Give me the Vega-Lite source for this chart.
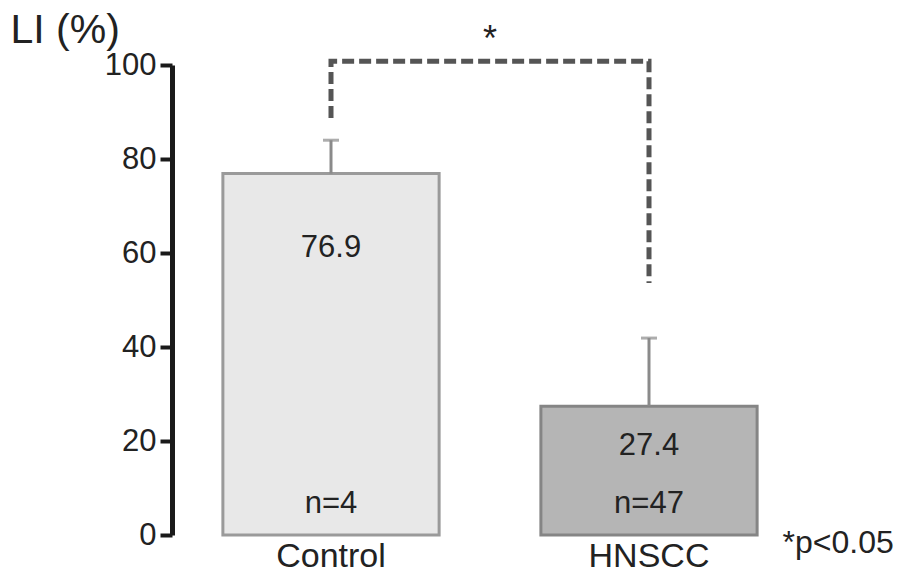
{
  "$schema": "https://vega.github.io/schema/vega-lite/v6.json",
  "width": 636,
  "height": 470,
  "autosize": {"type": "none"},
  "padding": {"left": 172, "top": 65, "right": 104, "bottom": 48},
  "background": "white",
  "config": {"view": {"stroke": null}, "font": "Liberation Sans"},
  "title": {"text": "*", "anchor": "middle", "fontSize": 36, "fontWeight": "normal", "color": "#222222", "offset": 10, "dy": 60},
  "datasets": {
    "bars": [
      {"group": "Control", "value": 76.9, "upper": 84.0, "n": "n=4"},
      {"group": "HNSCC", "value": 27.4, "upper": 41.9, "n": "n=47"}
    ],
    "bracket": [
      {"group": "Control", "y": 88.7, "o": 1},
      {"group": "Control", "y": 100.8, "o": 2},
      {"group": "HNSCC", "y": 100.8, "o": 3},
      {"group": "HNSCC", "y": 53.6, "o": 4}
    ]
  },
  "layer": [
    {
      "data": {"name": "bars"},
      "mark": {"type": "bar", "strokeWidth": 3},
      "encoding": {
        "x": {
          "field": "group", "type": "nominal", "sort": ["Control", "HNSCC"],
          "scale": {"paddingInner": 0.32, "paddingOuter": 0.16},
          "axis": {
            "domain": false, "ticks": false, "labelAngle": 0, "labelFontSize": 34, "labelPadding": 4,
            "labelColor": "#222222", "title": "*p<0.05", "titleX": 610, "titleY": 17,
            "titleAlign": "left", "titleBaseline": "alphabetic", "titleFontSize": 32,
            "titleFontWeight": "normal", "titleColor": "#222222"
          }
        },
        "y": {
          "field": "value", "type": "quantitative",
          "scale": {"domain": [0, 100], "nice": false},
          "axis": {
            "values": [0, 20, 40, 60, 80, 100], "grid": false, "domainWidth": 5, "domainColor": "#1a1a1a",
            "tickWidth": 4, "tickSize": 12, "tickColor": "#1a1a1a", "labelFontSize": 31, "labelPadding": 4,
            "labelColor": "#222222", "title": "LI (%)", "titleAngle": 0, "titleX": -162, "titleY": -23,
            "titleAlign": "left", "titleBaseline": "alphabetic", "titleFontSize": 41,
            "titleFontWeight": "normal", "titleColor": "#222222"
          }
        },
        "fill": {"field": "group", "type": "nominal", "scale": {"domain": ["Control", "HNSCC"], "range": ["#e8e8e8", "#b5b5b5"]}, "legend": null},
        "stroke": {"field": "group", "type": "nominal", "scale": {"domain": ["Control", "HNSCC"], "range": ["#9a9a9a", "#858585"]}, "legend": null}
      }
    },
    {
      "data": {"name": "bars"},
      "mark": {"type": "rule", "color": "#8a8a8a", "strokeWidth": 3},
      "encoding": {
        "x": {"field": "group", "type": "nominal"},
        "y": {"field": "value", "type": "quantitative"},
        "y2": {"field": "upper"}
      }
    },
    {
      "data": {"name": "bars"},
      "mark": {"type": "tick", "color": "#8a8a8a", "thickness": 3, "size": 16},
      "encoding": {
        "x": {"field": "group", "type": "nominal"},
        "y": {"field": "upper", "type": "quantitative"}
      }
    },
    {
      "data": {"name": "bars"},
      "transform": [{"filter": "datum.group == 'Control'"}],
      "mark": {"type": "text", "fontSize": 31, "color": "#222222", "baseline": "alphabetic", "dy": 83},
      "encoding": {
        "x": {"field": "group", "type": "nominal"},
        "y": {"field": "value", "type": "quantitative"},
        "text": {"field": "value", "type": "quantitative", "format": ".1f"}
      }
    },
    {
      "data": {"name": "bars"},
      "transform": [{"filter": "datum.group == 'HNSCC'"}],
      "mark": {"type": "text", "fontSize": 31, "color": "#222222", "baseline": "alphabetic", "dy": 49},
      "encoding": {
        "x": {"field": "group", "type": "nominal"},
        "y": {"field": "value", "type": "quantitative"},
        "text": {"field": "value", "type": "quantitative", "format": ".1f"}
      }
    },
    {
      "data": {"name": "bars"},
      "mark": {"type": "text", "fontSize": 31, "color": "#222222", "baseline": "alphabetic", "dy": -22},
      "encoding": {
        "x": {"field": "group", "type": "nominal"},
        "y": {"datum": 0, "type": "quantitative"},
        "text": {"field": "n", "type": "nominal"}
      }
    },
    {
      "data": {"name": "bracket"},
      "mark": {"type": "line", "color": "#555555", "strokeWidth": 5, "strokeDash": [12, 5]},
      "encoding": {
        "x": {"field": "group", "type": "nominal"},
        "y": {"field": "y", "type": "quantitative"},
        "order": {"field": "o", "type": "quantitative"}
      }
    }
  ]
}
